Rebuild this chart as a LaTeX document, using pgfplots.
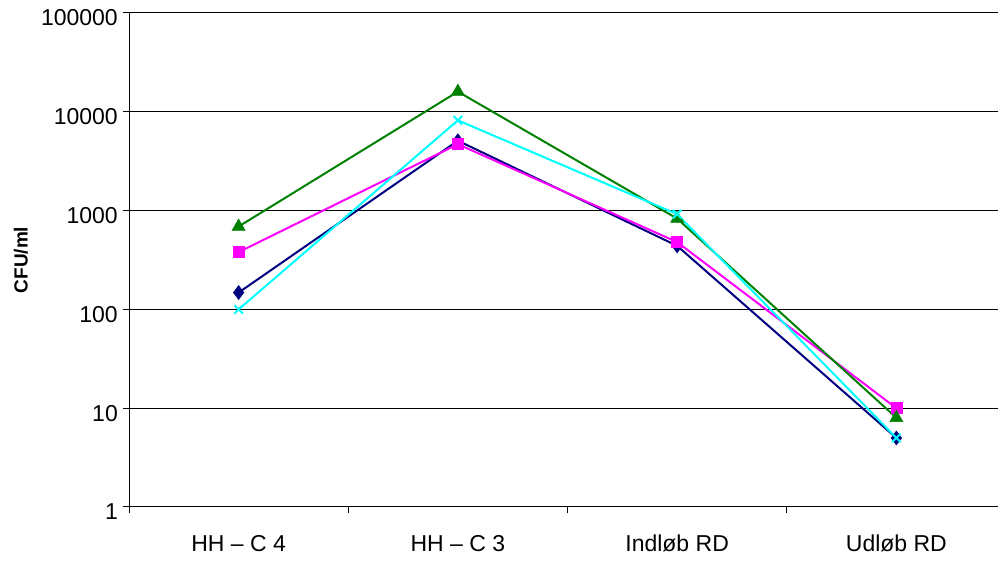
\documentclass[border=0pt]{standalone}
\usepackage{pgfplots}
\pgfplotsset{compat=1.18}
\usepackage{fontspec}
\setmainfont{Liberation Sans}
\definecolor{navy}{RGB}{0,0,128}
\definecolor{mag}{RGB}{255,0,255}
\definecolor{grn}{RGB}{0,128,0}
\definecolor{cyn}{RGB}{0,255,255}
\begin{document}
\begin{tikzpicture}
\useasboundingbox (0,0) rectangle (998pt,561pt);
\begin{axis}[
  at={(129pt,54pt)}, anchor=south west,
  scale only axis, width=869pt, height=494pt,
  ymode=log, ymin=1, ymax=100000,
  xmin=-0.5, xmax=3.4635,
  axis x line*=bottom, axis y line*=left,
  axis line style={black, line width=1pt},
  tick align=outside, major tick length=6pt,
  tick style={black, line width=1pt},
  ytick={1,10,100,1000,10000,100000},
  yticklabels={1,10,100,1000,10000,100000},
  yminorticks=false,
  ymajorgrids, grid style={black, line width=1pt},
  xtick={-0.5,0.5,1.5,2.5}, xticklabels={},
  extra x ticks={0,1,2,3},
  extra x tick labels={HH -- C 4, HH -- C 3, Indløb RD, Udløb RD},
  extra x tick style={major tick length=0pt, xticklabel style={inner sep=0pt, anchor=north, yshift=-28pt}},
  tick label style={font=\fontsize{23}{27}\selectfont},
  yticklabel style={inner sep=0pt, anchor=east, xshift=-5pt, yshift=-5pt},
  ylabel={CFU/ml},
  ylabel style={font=\bfseries\fontsize{19}{22}\selectfont, at={(axis description cs:-0.1243,0.5)}, anchor=center},
]
\addplot[color=navy, line width=2pt, mark=diamond*, mark size=7pt, mark options={solid, line width=0.5pt, fill=navy}] coordinates {(0,148)(1,5100)(2,440)(3,5)};
\addplot[color=mag, line width=2pt, mark=square*, mark size=5.5pt, mark options={solid, line width=0.5pt, fill=mag}] coordinates {(0,380)(1,4700)(2,480)(3,10)};
\addplot[color=grn, line width=2pt, mark=triangle*, mark size=7.5pt, mark options={solid, line width=0.5pt, fill=grn}] coordinates {(0,690)(1,16000)(2,830)(3,8)};
\addplot[color=cyn, line width=2pt, mark=x, mark size=6pt, mark options={solid, line width=2pt}] coordinates {(0,100)(1,8200)(2,920)(3,5)};
\end{axis}
\end{tikzpicture}
\end{document}
